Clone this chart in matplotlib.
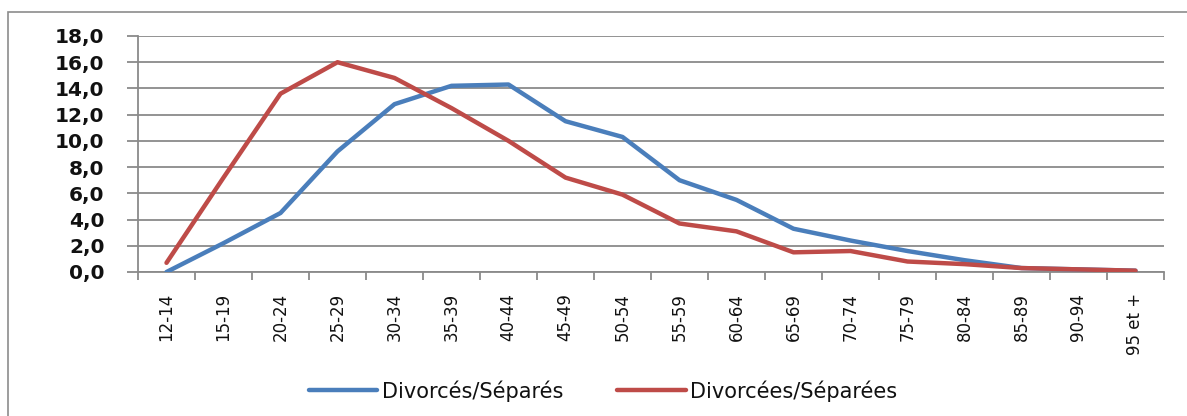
import matplotlib
matplotlib.use("Agg")
import matplotlib.pyplot as plt
from matplotlib.patches import Rectangle
from matplotlib.ticker import FixedLocator, NullFormatter

categories = ["12-14", "15-19", "20-24", "25-29", "30-34", "35-39", "40-44", "45-49",
              "50-54", "55-59", "60-64", "65-69", "70-74", "75-79", "80-84", "85-89",
              "90-94", "95 et +"]
divorces_hommes = [0.0, 2.2, 4.5, 9.2, 12.8, 14.2, 14.3, 11.5, 10.3, 7.0, 5.5, 3.3,
                   2.4, 1.6, 0.9, 0.3, 0.2, 0.1]
divorcees_femmes = [0.7, 7.2, 13.6, 16.0, 14.8, 12.5, 10.0, 7.2, 5.9, 3.7, 3.1, 1.5,
                    1.6, 0.8, 0.6, 0.3, 0.2, 0.1]
series_labels = ["Divorcés/Séparés", "Divorcées/Séparées"]
y_ticks = [0, 2, 4, 6, 8, 10, 12, 14, 16, 18]

W, H = 1187, 416
fig = plt.figure(figsize=(W / 100, H / 100), dpi=100)
ax = fig.add_axes([138 / W, 1 - 272 / H, (1164 - 138) / W, (272 - 36) / H])

# outer chart border
fig.patches.append(Rectangle((8 / W, -0.05), 1.1, 1 - 12 / H + 0.05, transform=fig.transFigure,
                             fill=False, edgecolor="#8c8c8c", linewidth=1.2))

x = list(range(len(categories)))
ax.plot(x, divorces_hommes, color="#4A7EBB", lw=3.2, solid_capstyle="round",
        solid_joinstyle="round", label=series_labels[0], zorder=3)
ax.plot(x, divorcees_femmes, color="#BE4B48", lw=3.2, solid_capstyle="round",
        solid_joinstyle="round", label=series_labels[1], zorder=3)

ax.set_xlim(-0.5, len(categories) - 0.5)
ax.set_ylim(0, 18)
ax.set_yticks(y_ticks)
ax.set_yticklabels([f"{v:.1f}".replace(".", ",") for v in y_ticks],
                   fontsize=14.5, fontweight="bold", color="#111111")
ax.yaxis.grid(True, color="#8a8a8a", lw=1.3)
ax.set_axisbelow(True)

ax.set_xticks(x)
ax.set_xticklabels(categories, rotation=90, fontsize=12, color="#111111")
ax.tick_params(axis="x", length=0, pad=15)
ax.xaxis.set_minor_locator(FixedLocator([i - 0.5 for i in range(len(categories) + 1)]))
ax.xaxis.set_minor_formatter(NullFormatter())
ax.tick_params(axis="x", which="minor", length=6, width=1.3, color="#8a8a8a")
ax.tick_params(axis="y", length=8, width=1.3, color="#8a8a8a", pad=16)

for s in ["top", "right"]:
    ax.spines[s].set_visible(False)
for s in ["left", "bottom"]:
    ax.spines[s].set_color("#8a8a8a")
    ax.spines[s].set_linewidth(1.3)

fig.legend(loc="center", bbox_to_anchor=(603 / W, 1 - 391 / H), ncol=2, frameon=False,
           prop={"family": "DejaVu Sans", "size": 15}, labelcolor="#111111",
           handlelength=3.3, columnspacing=2.6, handletextpad=0.2)

fig.savefig("out.png", dpi=100)
